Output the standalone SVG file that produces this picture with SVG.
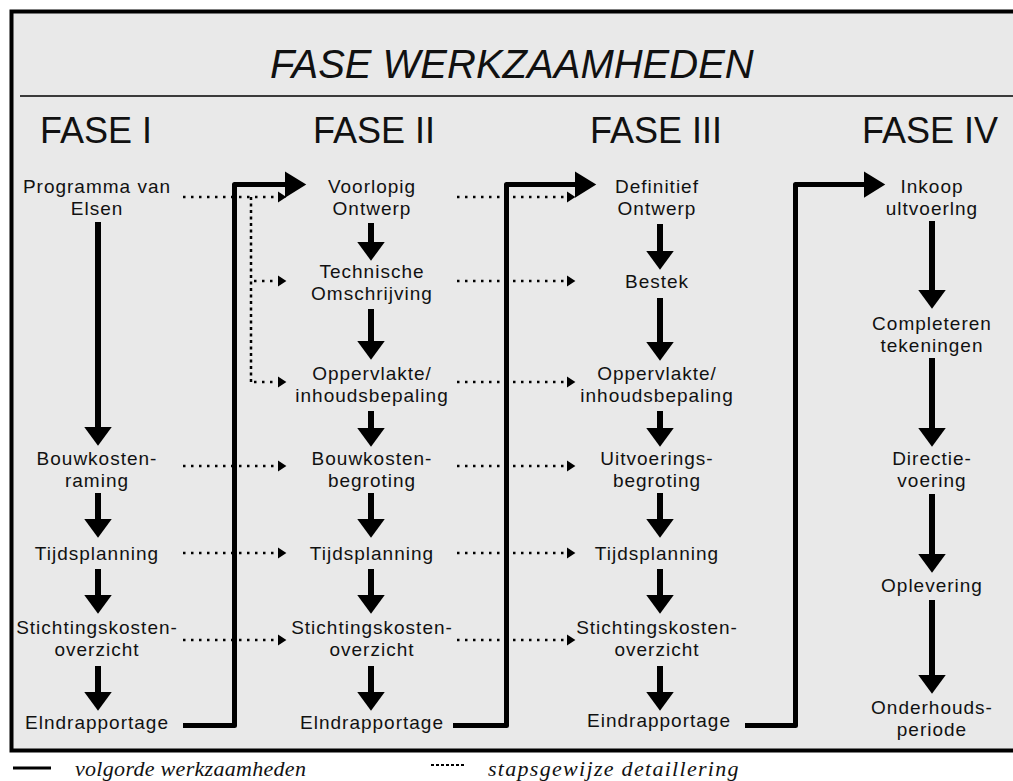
<svg xmlns="http://www.w3.org/2000/svg" width="1013" height="781" viewBox="0 0 1013 781">
<defs>
<style>
.lbl{font-family:"Liberation Sans",Arial,sans-serif;font-size:19px;letter-spacing:1px;text-anchor:middle;fill:#111}
.head{font-family:"Liberation Sans",Arial,sans-serif;font-size:36px;fill:#111}
.title{font-family:"Liberation Sans",Arial,sans-serif;font-size:40px;font-style:italic;fill:#111}
.leg{font-family:"Liberation Serif","Times New Roman",serif;font-size:22px;font-style:italic;fill:#111}
.down{stroke:#000;stroke-width:6;fill:none}
.flow{stroke:#000;stroke-width:5;fill:none;stroke-linejoin:round}
.dot{stroke:#000;stroke-width:2.5;fill:none;stroke-dasharray:2.5 5.5}
.vdot{stroke:#000;stroke-width:2.5;fill:none;stroke-dasharray:3 3.5}
</style>
<marker id="ah" markerUnits="userSpaceOnUse" markerWidth="30" markerHeight="30" viewBox="0 -12 16 24" refX="0" refY="0" orient="auto"><path d="M0,-11 L15,0 L0,11 z" fill="#000"/></marker>
<marker id="ahb" markerUnits="userSpaceOnUse" markerWidth="30" markerHeight="30" viewBox="0 -12 18 24" refX="0" refY="0" orient="auto"><path d="M0,-10.5 L17,0 L0,10.5 z" fill="#000"/></marker>
<marker id="ahs" markerUnits="userSpaceOnUse" markerWidth="12" markerHeight="12" viewBox="0 -5 8 10" refX="0" refY="0" orient="auto"><path d="M0,-4.5 L7,0 L0,4.5 z" fill="#000"/></marker>
</defs>
<rect x="0" y="0" width="1013" height="781" fill="#fff"/>
<rect x="11.5" y="11.5" width="1020" height="739" fill="#e9e9e9" stroke="#000" stroke-width="4"/>
<line x1="20" y1="96" x2="1013" y2="96" stroke="#000" stroke-width="1.5"/>
<text class="title" x="270" y="78">FASE WERKZAAMHEDEN</text>
<text class="head" x="40" y="143">FASE I</text>
<text class="head" x="313" y="143">FASE II</text>
<text class="head" x="590" y="143">FASE III</text>
<text class="head" x="862" y="143">FASE IV</text>

<g id="connectors">
<!-- column 1 -->
<line class="down" x1="98" y1="222" x2="98" y2="427" marker-end="url(#ah)"/>
<line class="down" x1="98" y1="493" x2="98" y2="519" marker-end="url(#ah)"/>
<line class="down" x1="98" y1="569" x2="98" y2="595" marker-end="url(#ah)"/>
<line class="down" x1="98" y1="666" x2="98" y2="692" marker-end="url(#ah)"/>
<!-- column 2 -->
<line class="down" x1="371" y1="223" x2="371" y2="242" marker-end="url(#ah)"/>
<line class="down" x1="371" y1="309" x2="371" y2="341" marker-end="url(#ah)"/>
<line class="down" x1="371" y1="411" x2="371" y2="428" marker-end="url(#ah)"/>
<line class="down" x1="371" y1="493" x2="371" y2="519" marker-end="url(#ah)"/>
<line class="down" x1="371" y1="569" x2="371" y2="595" marker-end="url(#ah)"/>
<line class="down" x1="371" y1="666" x2="371" y2="692" marker-end="url(#ah)"/>
<!-- column 3 -->
<line class="down" x1="660" y1="224" x2="660" y2="251" marker-end="url(#ah)"/>
<line class="down" x1="660" y1="298" x2="660" y2="342" marker-end="url(#ah)"/>
<line class="down" x1="660" y1="411" x2="660" y2="428" marker-end="url(#ah)"/>
<line class="down" x1="660" y1="493" x2="660" y2="519" marker-end="url(#ah)"/>
<line class="down" x1="660" y1="569" x2="660" y2="595" marker-end="url(#ah)"/>
<line class="down" x1="660" y1="666" x2="660" y2="692" marker-end="url(#ah)"/>
<!-- column 4 -->
<line class="down" x1="932" y1="221" x2="932" y2="290" marker-end="url(#ah)"/>
<line class="down" x1="932" y1="358" x2="932" y2="428" marker-end="url(#ah)"/>
<line class="down" x1="932" y1="494" x2="932" y2="554" marker-end="url(#ah)"/>
<line class="down" x1="932" y1="600" x2="932" y2="675" marker-end="url(#ah)"/>
<!-- phase transfers -->
<polyline class="flow" points="183,725.5 234.5,725.5 234.5,184.5 285,184.5" marker-end="url(#ahb)"/>
<polyline class="flow" points="453,725.5 506.5,725.5 506.5,184.5 575,184.5" marker-end="url(#ahb)"/>
<polyline class="flow" points="745,725.5 795.5,725.5 795.5,184.5 864,184.5" marker-end="url(#ahb)"/>
<!-- stepwise detailing, phase I to II -->
<line class="dot" x1="183" y1="197" x2="278" y2="197" marker-end="url(#ahs)"/>
<line class="vdot" x1="251" y1="197" x2="251" y2="382"/>
<line class="dot" x1="254" y1="281" x2="278" y2="281" marker-end="url(#ahs)"/>
<line class="dot" x1="254" y1="382" x2="278" y2="382" marker-end="url(#ahs)"/>
<line class="dot" x1="183" y1="466" x2="278" y2="466" marker-end="url(#ahs)"/>
<line class="dot" x1="183" y1="553" x2="278" y2="553" marker-end="url(#ahs)"/>
<line class="dot" x1="183" y1="640" x2="278" y2="640" marker-end="url(#ahs)"/>
<!-- phase II to III -->
<line class="dot" x1="457" y1="197" x2="567" y2="197" marker-end="url(#ahs)"/>
<line class="dot" x1="457" y1="281" x2="567" y2="281" marker-end="url(#ahs)"/>
<line class="dot" x1="457" y1="382" x2="567" y2="382" marker-end="url(#ahs)"/>
<line class="dot" x1="457" y1="466" x2="567" y2="466" marker-end="url(#ahs)"/>
<line class="dot" x1="457" y1="553" x2="567" y2="553" marker-end="url(#ahs)"/>
<line class="dot" x1="457" y1="640" x2="567" y2="640" marker-end="url(#ahs)"/>
</g>

<g id="n-programma"><text class="lbl" x="97" y="193">Programma van</text><text class="lbl" x="97" y="215">Elsen</text></g>
<g id="n-bouwkostenraming"><text class="lbl" x="97" y="465">Bouwkosten-</text><text class="lbl" x="97" y="487">raming</text></g>
<g id="n-tijd1"><text class="lbl" x="97" y="560">Tijdsplanning</text></g>
<g id="n-stichting1"><text class="lbl" x="97" y="634">Stichtingskosten-</text><text class="lbl" x="97" y="656">overzicht</text></g>
<g id="n-eind1"><text class="lbl" x="97" y="729">Elndrapportage</text></g>

<g id="n-voorlopig"><text class="lbl" x="372" y="193">Voorlopig</text><text class="lbl" x="372" y="215">Ontwerp</text></g>
<g id="n-technische"><text class="lbl" x="372" y="278">Technische</text><text class="lbl" x="372" y="300">Omschrijving</text></g>
<g id="n-opp2"><text class="lbl" x="372" y="380">Oppervlakte/</text><text class="lbl" x="372" y="402">inhoudsbepaling</text></g>
<g id="n-begroting2"><text class="lbl" x="372" y="465">Bouwkosten-</text><text class="lbl" x="372" y="487">begroting</text></g>
<g id="n-tijd2"><text class="lbl" x="372" y="560">Tijdsplanning</text></g>
<g id="n-stichting2"><text class="lbl" x="372" y="634">Stichtingskosten-</text><text class="lbl" x="372" y="656">overzicht</text></g>
<g id="n-eind2"><text class="lbl" x="372" y="729">Elndrapportage</text></g>

<g id="n-definitief"><text class="lbl" x="657" y="193">Definitief</text><text class="lbl" x="657" y="215">Ontwerp</text></g>
<g id="n-bestek"><text class="lbl" x="657" y="288">Bestek</text></g>
<g id="n-opp3"><text class="lbl" x="657" y="380">Oppervlakte/</text><text class="lbl" x="657" y="402">inhoudsbepaling</text></g>
<g id="n-uitvoering"><text class="lbl" x="657" y="465">Uitvoerings-</text><text class="lbl" x="657" y="487">begroting</text></g>
<g id="n-tijd3"><text class="lbl" x="657" y="560">Tijdsplanning</text></g>
<g id="n-stichting3"><text class="lbl" x="657" y="634">Stichtingskosten-</text><text class="lbl" x="657" y="656">overzicht</text></g>
<g id="n-eind3"><text class="lbl" x="659" y="727">Eindrapportage</text></g>

<g id="n-inkoop"><text class="lbl" x="932" y="193">Inkoop</text><text class="lbl" x="932" y="215">ultvoerlng</text></g>
<g id="n-completeren"><text class="lbl" x="932" y="330">Completeren</text><text class="lbl" x="932" y="352">tekeningen</text></g>
<g id="n-directie"><text class="lbl" x="932" y="465">Directie-</text><text class="lbl" x="932" y="487">voering</text></g>
<g id="n-oplevering"><text class="lbl" x="932" y="592">Oplevering</text></g>
<g id="n-onderhoud"><text class="lbl" x="932" y="714">Onderhouds-</text><text class="lbl" x="932" y="736">periode</text></g>

<g id="legend">
<line x1="13" y1="768" x2="51" y2="768" stroke="#000" stroke-width="3"/>
<text class="leg" x="75" y="776" letter-spacing="0.3">volgorde werkzaamheden</text>
<line x1="431" y1="765" x2="465" y2="765" stroke="#000" stroke-width="2" stroke-dasharray="3 2"/>
<text class="leg" x="488" y="776" letter-spacing="1.3">stapsgewijze detaillering</text>
</g>
</svg>
